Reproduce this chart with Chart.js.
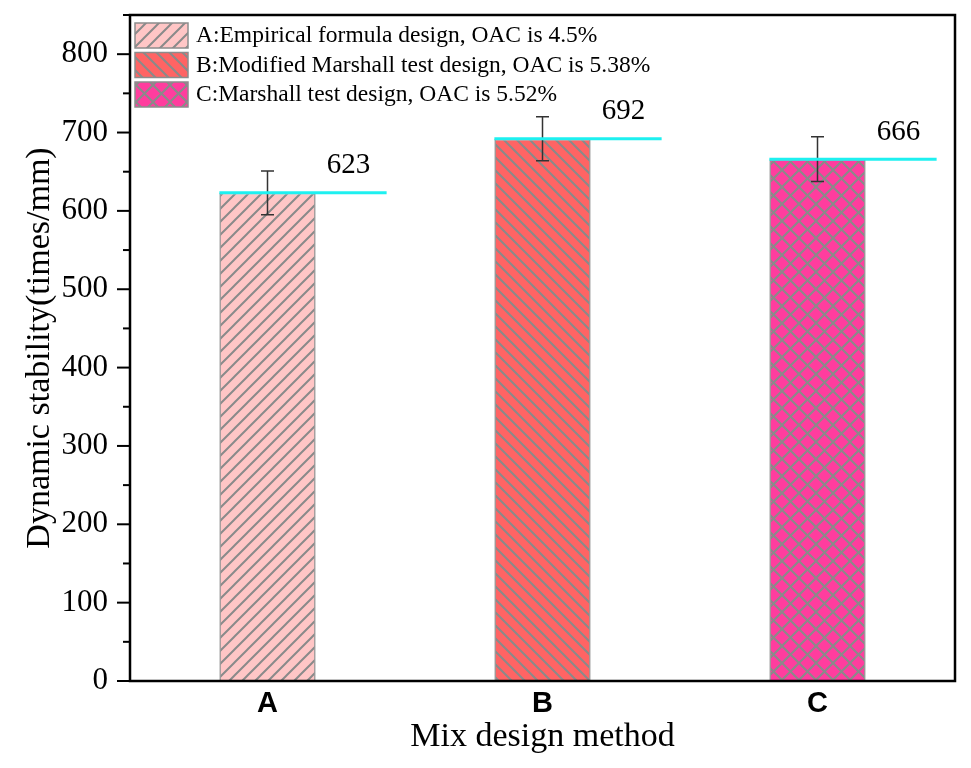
<!DOCTYPE html>
<html>
<head>
<meta charset="utf-8">
<script src="https://cdn.jsdelivr.net/npm/chart.js@4.4.1/dist/chart.umd.min.js"></script>
<style>
  html, body { margin: 0; padding: 0; background: #fff; }
  #wrap { width: 971px; height: 768px; }
</style>
</head>
<body>
<div id="wrap"><canvas id="dsChart"></canvas></div>
<script>
// data
const categories = ['A', 'B', 'C'];
const stability = [623, 692, 666];
const errors = [28, 28, 28.5];
const legendNames = [
    'A:Empirical formula design, OAC is 4.5%',
    'B:Modified Marshall test design, OAC is 5.38%',
    'C:Marshall test design, OAC is 5.52%'
];
const yTicks = [0, 100, 200, 300, 400, 500, 600, 700, 800];

const SERIF = "'Liberation Serif', 'Times New Roman', serif";
const SANS = "'Liberation Sans', Arial, sans-serif";

// hatch fills like the Origin patterns
function hatch(bg, kind, size) {
    const c = document.createElement('canvas');
    c.width = size; c.height = size;
    const g = c.getContext('2d');
    g.fillStyle = bg;
    g.fillRect(0, 0, size, size);
    g.strokeStyle = '#8a8a8a';
    g.lineWidth = 2;
    g.beginPath();
    if (kind === '/' || kind === 'x') {
        g.moveTo(0, size); g.lineTo(size, 0);
        g.moveTo(-2, 2); g.lineTo(2, -2);
        g.moveTo(size - 2, size + 2); g.lineTo(size + 2, size - 2);
    }
    if (kind === '\\' || kind === 'x') {
        g.moveTo(0, 0); g.lineTo(size, size);
        g.moveTo(-2, size - 2); g.lineTo(2, size + 2);
        g.moveTo(size - 2, -2); g.lineTo(size + 2, 2);
    }
    g.stroke();
    return g.createPattern(c, 'repeat');
}

const fills = [
    hatch('#ffc6c6', '/', 13),
    hatch('#ff6464', '\\', 13),
    hatch('#ff3d9e', 'x', 17)
];

// frame, ticks, error bars, cyan value lines, legend
const decorPlugin = {
    id: 'decor',
    afterDatasetsDraw(chart) {
        const ctx = chart.ctx;
        const area = chart.chartArea;
        const y = chart.scales.y;
        const meta = chart.getDatasetMeta(0);
        ctx.save();

        // error bars
        ctx.strokeStyle = '#333';
        ctx.lineWidth = 1.5;
        meta.data.forEach((bar, i) => {
            const top = y.getPixelForValue(stability[i] + errors[i]);
            const bot = y.getPixelForValue(stability[i] - errors[i]);
            ctx.beginPath();
            ctx.moveTo(bar.x, top); ctx.lineTo(bar.x, bot);
            ctx.moveTo(bar.x - 6.5, top); ctx.lineTo(bar.x + 6.5, top);
            ctx.moveTo(bar.x - 6.5, bot); ctx.lineTo(bar.x + 6.5, bot);
            ctx.stroke();
        });

        // cyan level lines with labels
        meta.data.forEach((bar, i) => {
            const half = bar.width / 2;
            ctx.strokeStyle = '#1ef0f0';
            ctx.lineWidth = 3;
            ctx.beginPath();
            ctx.moveTo(bar.x - half, bar.y);
            ctx.lineTo(bar.x + half + 71, bar.y);
            ctx.stroke();
            ctx.fillStyle = '#000';
            ctx.font = '29px ' + SERIF;
            ctx.textAlign = 'center';
            ctx.textBaseline = 'middle';
            ctx.fillText(String(stability[i]), bar.x + 81, bar.y - 27);
        });

        // frame
        ctx.strokeStyle = '#000';
        ctx.lineWidth = 2.5;
        ctx.strokeRect(area.left, area.top, area.right - area.left, area.bottom - area.top);

        // y ticks, major and minor
        ctx.lineWidth = 2;
        for (let v = 0; v <= 850; v += 50) {
            const py = y.getPixelForValue(v);
            const len = v % 100 === 0 ? 13 : 7;
            ctx.beginPath();
            ctx.moveTo(area.left - len, py);
            ctx.lineTo(area.left, py);
            ctx.stroke();
        }

        // legend
        ctx.font = '23.5px ' + SERIF;
        ctx.textAlign = 'left';
        ctx.textBaseline = 'middle';
        legendNames.forEach((name, i) => {
            const top = area.top + 8 + i * 29.5;
            ctx.fillStyle = fills[i];
            ctx.fillRect(135, top, 53, 25);
            ctx.strokeStyle = '#8c8c8c';
            ctx.lineWidth = 1.5;
            ctx.strokeRect(135, top, 53, 25);
            ctx.fillStyle = '#000';
            ctx.fillText(name, 196, top + 13);
        });
        ctx.restore();
    }
};

const ctx = document.getElementById('dsChart').getContext('2d');
new Chart(ctx, {
    type: 'bar',
    data: {
        labels: categories,
        datasets: [{
            data: stability,
            backgroundColor: fills,
            borderColor: '#8c8c8c',
            borderWidth: 1.5,
            barPercentage: 0.35,
            categoryPercentage: 1
        }]
    },
    options: {
        responsive: true,
        maintainAspectRatio: false,
        devicePixelRatio: 1,
        animation: false,
        layout: { padding: { top: 15, right: 16, left: 0, bottom: 0 } },
        scales: {
            x: {
                grid: { display: false, drawTicks: false },
                border: { display: false },
                ticks: {
                    color: '#000',
                    padding: 6,
                    font: { family: SANS, size: 29, weight: 'bold' }
                },
                title: {
                    display: true,
                    text: 'Mix design method',
                    color: '#000',
                    padding: { top: 0, bottom: 11 },
                    font: { family: SERIF, size: 34 }
                },
                afterFit(s) { s.height = 87; s.paddingLeft = 0; s.paddingRight = 0; }
            },
            y: {
                min: 0,
                max: 850,
                grid: { display: false, drawTicks: false },
                border: { display: false },
                afterBuildTicks(s) { s.ticks = yTicks.map(v => ({ value: v })); },
                ticks: {
                    color: '#000',
                    padding: 22,
                    font: { family: SERIF, size: 31 }
                },
                title: {
                    display: true,
                    text: 'Dynamic stability(times/mm)',
                    color: '#000',
                    padding: { top: 20, bottom: 0 },
                    font: { family: SERIF, size: 34 }
                },
                afterFit(s) { s.width = 130; s.paddingTop = 0; s.paddingBottom = 0; }
            }
        },
        plugins: {
            legend: { display: false },
            tooltip: { enabled: false }
        }
    },
    plugins: [decorPlugin]
});
</script>
</body>
</html>
